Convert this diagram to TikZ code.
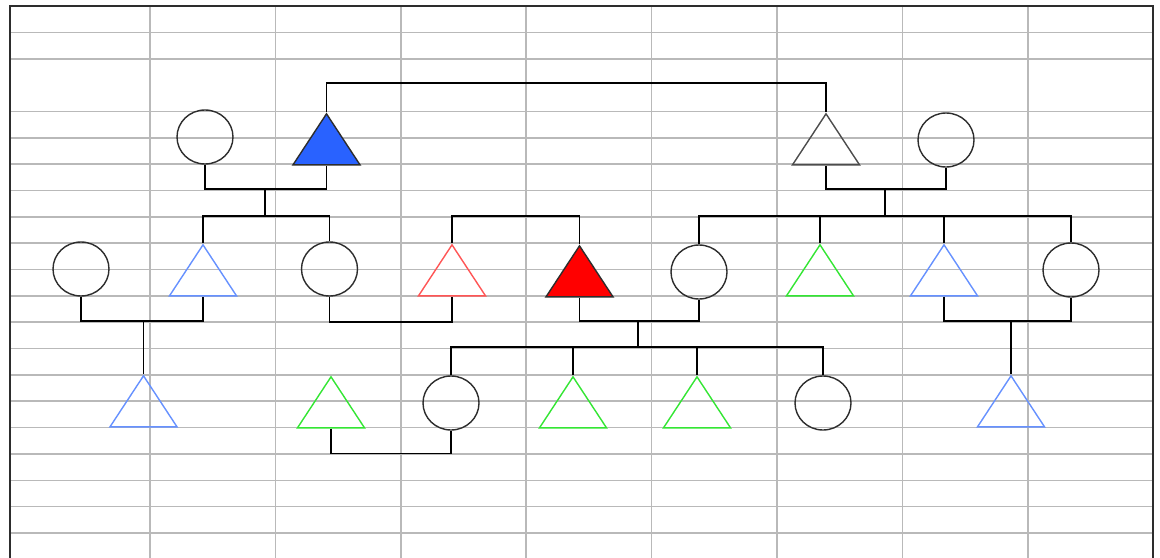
\documentclass[tikz,border=0pt]{standalone}
\usepackage{xcolor}
\usepackage{tikz}
\usetikzlibrary{shapes.geometric}
\definecolor{PedBlue}{RGB}{41,98,255}
\definecolor{PedSky}{RGB}{102,145,255}
\definecolor{PedGreen}{RGB}{51,230,51}
\definecolor{PedRose}{RGB}{255,85,85}
\definecolor{PedRed}{RGB}{255,0,0}
\definecolor{PedGrid}{RGB}{185,185,185}
\definecolor{PedInk}{RGB}{45,45,45}

\begin{document}
\begin{tikzpicture}[x=0.5pt, y=-0.5pt,
          female/.style={ellipse, draw=PedInk, line width=0.7pt,
                         minimum width=28pt, minimum height=27pt, inner sep=0pt},
          male/.style={isosceles triangle, isosceles triangle stretches,
                       shape border rotate=90, minimum width=33.5pt,
                       minimum height=25.5pt, inner sep=0pt, line width=0.7pt,
                       draw=PedInk, anchor=apex},
          link/.style={draw=black, line width=0.8pt}
        ]
        % Sheet
        \useasboundingbox (0,0) rectangle (1160,557);
        \fill[white] (0,0) rectangle (1160,557);
        \foreach \k in {1,2,4,5,...,21}
          \draw[PedGrid, line width=0.8pt] (10,6+26.35*\k) -- (1153,6+26.35*\k);
        \foreach \x in {150,275.4,400.8,526.2,651.6,777,902.4,1027.8}
          \draw[PedGrid, line width=0.8pt] (\x,6) -- (\x,560);
        \draw[PedInk, line width=0.9pt] (10,560) -- (10,6) -- (1153,6) -- (1153,560);

        % Generation I
        \node[female]                  (gm1) at (205,137)   {};
        \node[male, fill=PedBlue]      (gf1) at (326.5,112) {};
        \node[male, draw=black!70]     (gf2) at (826,112)   {};
        \node[female]                  (gm2) at (946,140)   {};

        % Generation II
        \node[female]                  (a1) at (81,269)     {};
        \node[male, draw=PedSky]       (a2) at (203,243)    {};
        \node[female]                  (a3) at (329.5,269)  {};
        \node[male, draw=PedRose]      (a4) at (452,243)    {};
        \node[male, fill=PedRed]       (a5) at (579.5,244)  {};
        \node[female]                  (a6) at (699,272)    {};
        \node[male, draw=PedGreen]     (a7) at (820,243)    {};
        \node[male, draw=PedSky]       (a8) at (944,243)    {};
        \node[female]                  (a9) at (1071,270)   {};

        % Generation III
        \node[male, draw=PedSky]       (b1) at (143.5,374)  {};
        \node[male, draw=PedGreen]     (b2) at (331,375)    {};
        \node[female]                  (b3) at (451,403)    {};
        \node[male, draw=PedGreen]     (b4) at (573,375)    {};
        \node[male, draw=PedGreen]     (b5) at (697,375)    {};
        \node[female]                  (b6) at (823,403)    {};
        \node[male, draw=PedSky]       (b7) at (1011,374)   {};

        % Unions and sibships
        \coordinate (u1) at (265,189);   \coordinate (s1) at (265,216);
        \coordinate (u2) at (885,189);   \coordinate (s2) at (885,216);
        \coordinate (u3) at (143.5,321);
        \coordinate (u4) at (638,321);   \coordinate (s4) at (638,347);
        \coordinate (u5) at (1011,321);

        \draw[link] (gf1.apex) -- ++(0,-29) -| (gf2.apex);
        \draw[link] (gm1.south) |- (u1) -| (gf1.lower side);
        \draw[link] (u1) -- (s1);
        \draw[link] (a2.apex) |- (s1) -| (a3.north);

        \draw[link] (gf2.lower side) |- (u2) -| (gm2.south);
        \draw[link] (u2) -- (s2);
        \draw[link] (a6.north) |- (s2) -| (a9.north);
        \draw[link] (a7.apex) -- (a7.apex |- s2);
        \draw[link] (a8.apex) -- (a8.apex |- s2);

        \draw[link] (a4.apex) -- ++(0,-27) -| (a5.apex);

        \draw[link] (a1.south) |- (u3) -| (a2.lower side);
        \draw[link] (u3) -- (b1.apex);
        \draw[link] (a3.south) -- ++(0,25) -| (a4.lower side);

        \draw[link] (a5.lower side) |- (u4) -| (a6.south);
        \draw[link] (u4) -- (s4);
        \draw[link] (b3.north) |- (s4) -| (b6.north);
        \draw[link] (b4.apex) -- (b4.apex |- s4);
        \draw[link] (b5.apex) -- (b5.apex |- s4);

        \draw[link] (a8.lower side) |- (u5) -| (a9.south);
        \draw[link] (u5) -- (b7.apex);

        \draw[link] (b2.lower side) -- ++(0,25) -| (b3.south);
      \end{tikzpicture}
\end{document}
